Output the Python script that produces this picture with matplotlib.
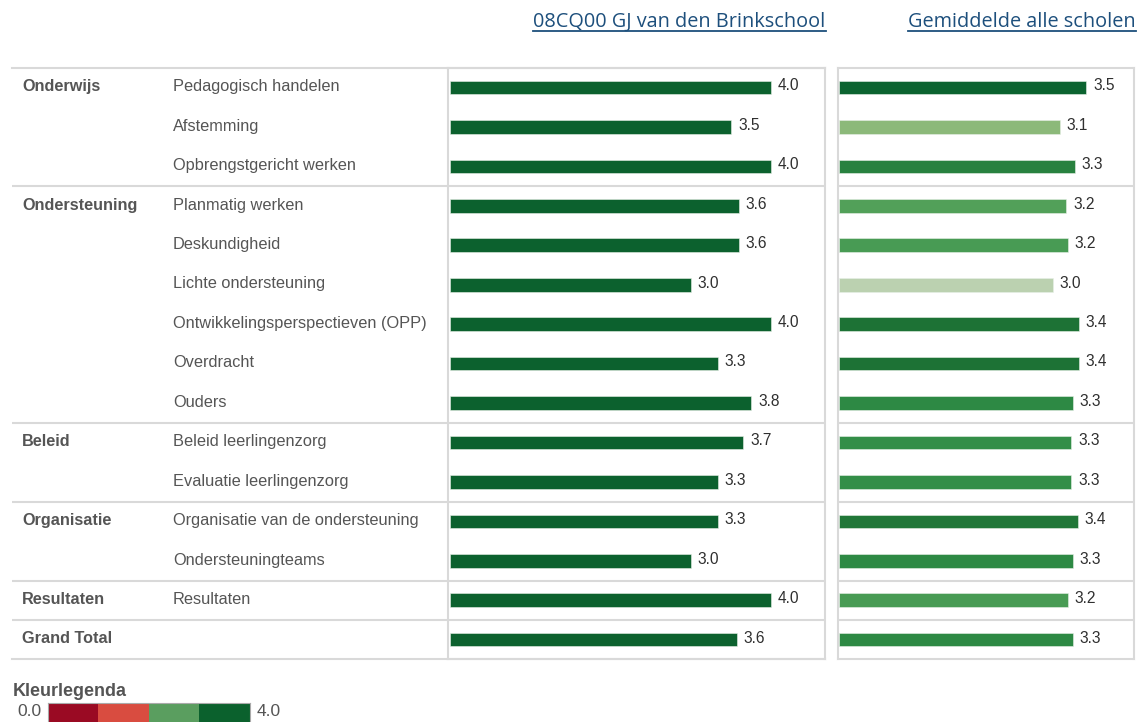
import numpy as np
import matplotlib
matplotlib.use('Agg')
import matplotlib.pyplot as plt
from matplotlib.colors import LinearSegmentedColormap, ListedColormap, Normalize
from matplotlib.lines import Line2D

# data
groups = ['Onderwijs', 'Ondersteuning', 'Beleid', 'Organisatie', 'Resultaten', 'Grand Total']
group_sizes = [3, 6, 2, 2, 1, 1]
items = ['Pedagogisch handelen', 'Afstemming', 'Opbrengstgericht werken',
         'Planmatig werken', 'Deskundigheid', 'Lichte ondersteuning',
         'Ontwikkelingsperspectieven (OPP)', 'Overdracht', 'Ouders',
         'Beleid leerlingenzorg', 'Evaluatie leerlingenzorg',
         'Organisatie van de ondersteuning', 'Ondersteuningteams',
         'Resultaten', '']
school = [4.0, 3.51, 4.0, 3.6, 3.6, 3.0, 4.0, 3.34, 3.76, 3.66, 3.34, 3.34, 3.0, 4.0, 3.58]
average = [3.50, 3.13, 3.34, 3.22, 3.24, 3.03, 3.40, 3.40, 3.31, 3.29, 3.29, 3.38, 3.31, 3.24, 3.31]
school_title = '08CQ00 GJ van den Brinkschool'
average_title = 'Gemiddelde alle scholen'
legend_title = 'Kleurlegenda'
legend_min, legend_max = 0.0, 4.0
legend_colors = ['#9a0a23', '#d94c40', '#5a9e5f', '#0b612d']

W, H = 1137, 722
fig = plt.figure(figsize=(W / 100, H / 100), dpi=100)
fig.patch.set_facecolor('white')
plt.rcParams['font.family'] = ['Liberation Sans', 'DejaVu Sans']

GRID = '#d9d9d9'
TXT = '#555555'
BAR = '#0c612e'


def px_axes(x0, y0, x1, y1):
    return fig.add_axes([x0 / W, 1 - y1 / H, (x1 - x0) / W, (y1 - y0) / H])


n = len(items)
ys = np.arange(n)
bounds = np.cumsum(group_sizes)[:-1] - 0.5
top, bottom = 67.8, 659.4

# text table
tab = px_axes(12, top, 825, bottom)
tab.set_xlim(12, 825)
tab.set_ylim(n - 0.5, -0.5)
tab.set_xticks([]); tab.set_yticks([])
for s in ['left', 'right']:
    tab.spines[s].set_visible(False)
for s in ['top', 'bottom']:
    tab.spines[s].set_color(GRID); tab.spines[s].set_linewidth(1.5)
for b in bounds:
    tab.axhline(b, color=GRID, lw=1.5)
start = 0
for g, size in zip(groups, group_sizes):
    tab.text(22, start - 0.02, g, fontsize=11.7, fontweight='bold', color=TXT, va='center')
    start += size
for i, lab in enumerate(items):
    tab.text(173, i - 0.02, lab, fontsize=11.8, color=TXT, va='center')

# school bars
ax1 = px_axes(448, top, 825, bottom)
ax1.patch.set_alpha(0)
ax1.barh(ys, school, height=0.345, color=BAR, edgecolor='#e8f0e8', linewidth=0.4)
ax1.set_xlim(-0.03, 4.68)
ax1.set_ylim(n - 0.5, -0.5)
for i, v in enumerate(school):
    ax1.annotate(f'{v:.1f}', (v, i), xytext=(5, 1.2), textcoords='offset points',
                 va='center', fontsize=11.2, color='#2f2f2f')

# average bars
cmap = LinearSegmentedColormap.from_list('avg', [(0, '#c9d8c0'), (0.25, '#8fba7c'), (0.45, '#4e9f57'),
                                                 (0.6, '#2f8c46'), (0.78, '#1f7436'), (1, '#0b6330')])
norm = Normalize(vmin=3.0, vmax=3.5)
ax2 = px_axes(838, top, 1134, bottom)
ax2.barh(ys, average, height=0.345, color=cmap(norm(np.array(average))), edgecolor='#e8f0e8', linewidth=0.4)
ax2.set_xlim(-0.014, 4.18)
ax2.set_ylim(n - 0.5, -0.5)
for b in bounds:
    ax2.axhline(b, color=GRID, lw=1.5)
for i, v in enumerate(average):
    ax2.annotate(f'{v:.1f}', (v, i), xytext=(5, 1.2), textcoords='offset points',
                 va='center', fontsize=11.2, color='#2f2f2f')

for ax in [ax1, ax2]:
    ax.set_xticks([]); ax.set_yticks([])
    for s in ax.spines.values():
        s.set_color(GRID); s.set_linewidth(1.5)

# headers
h1 = fig.text(679.5 / W, 1 - 22 / H, school_title, fontsize=14.3, color='#1d4f7c',
              family=['Open Sans', 'DejaVu Sans'], ha='center', va='center')
h2 = fig.text(1136 / W, 1 - 22 / H, average_title, fontsize=14.3, color='#1d4f7c',
              family=['Open Sans', 'DejaVu Sans'], ha='right', va='center')

# colour legend
fig.text(13 / W, 1 - 696 / H, legend_title, fontsize=13, fontweight='bold', color=TXT,
         ha='left', va='baseline')
leg = px_axes(48, 703, 250, 724)
leg.imshow(np.arange(len(legend_colors))[None, :], cmap=ListedColormap(legend_colors), aspect='auto')
leg.set_xticks([]); leg.set_yticks([])
for s in leg.spines.values():
    s.set_color('#aaaaaa')
fig.text(42 / W, 1 - 712 / H, f'{legend_min:.1f}', fontsize=12.5, color=TXT, ha='right', va='center')
fig.text(257 / W, 1 - 712 / H, f'{legend_max:.1f}', fontsize=12.5, color=TXT, ha='left', va='center')

# underline the headers
fig.canvas.draw()
r = fig.canvas.get_renderer()
for h in [h1, h2]:
    bb = h.get_window_extent(r)
    yl = bb.y0 + 1
    fig.add_artist(Line2D([bb.x0 / W, bb.x1 / W], [yl / H, yl / H], color='#1d4f7c', lw=1.3))

fig.savefig('out.png', dpi=100)
